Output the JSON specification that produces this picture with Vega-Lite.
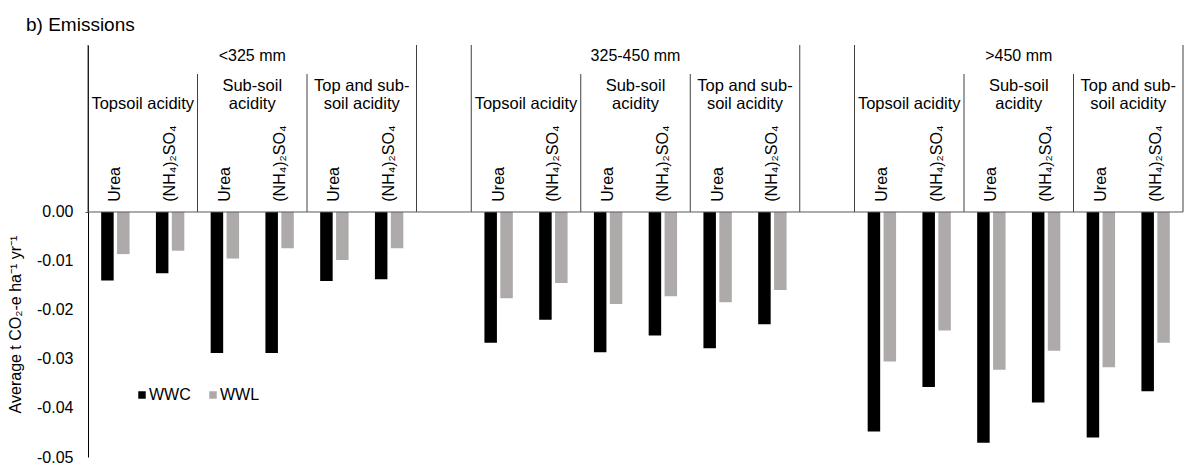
{
  "$schema": "https://vega.github.io/schema/vega-lite/v6.json",
  "width": 1095,
  "height": 412,
  "autosize": {"type": "none"},
  "padding": {"left": 88, "top": 45, "right": 1, "bottom": 15},
  "title": {"text": "b) Emissions", "anchor": "start", "frame": "group", "dx": -62, "offset": -5, "baseline": "alphabetic", "fontSize": 19, "fontWeight": "normal", "font": "Liberation Sans", "color": "#000000"},
  "datasets": {
    "bars": [
      {"cat": "c01", "rot": "WWC", "v": -0.0140}, {"cat": "c01", "rot": "WWL", "v": -0.0086},
      {"cat": "c02", "rot": "WWC", "v": -0.0125}, {"cat": "c02", "rot": "WWL", "v": -0.0079},
      {"cat": "c03", "rot": "WWC", "v": -0.0288}, {"cat": "c03", "rot": "WWL", "v": -0.0095},
      {"cat": "c04", "rot": "WWC", "v": -0.0288}, {"cat": "c04", "rot": "WWL", "v": -0.0074},
      {"cat": "c05", "rot": "WWC", "v": -0.0141}, {"cat": "c05", "rot": "WWL", "v": -0.0098},
      {"cat": "c06", "rot": "WWC", "v": -0.0137}, {"cat": "c06", "rot": "WWL", "v": -0.0074},
      {"cat": "c08", "rot": "WWC", "v": -0.0267}, {"cat": "c08", "rot": "WWL", "v": -0.0176},
      {"cat": "c09", "rot": "WWC", "v": -0.0220}, {"cat": "c09", "rot": "WWL", "v": -0.0145},
      {"cat": "c10", "rot": "WWC", "v": -0.0286}, {"cat": "c10", "rot": "WWL", "v": -0.0188},
      {"cat": "c11", "rot": "WWC", "v": -0.0252}, {"cat": "c11", "rot": "WWL", "v": -0.0172},
      {"cat": "c12", "rot": "WWC", "v": -0.0278}, {"cat": "c12", "rot": "WWL", "v": -0.0184},
      {"cat": "c13", "rot": "WWC", "v": -0.0229}, {"cat": "c13", "rot": "WWL", "v": -0.0159},
      {"cat": "c15", "rot": "WWC", "v": -0.0448}, {"cat": "c15", "rot": "WWL", "v": -0.0305},
      {"cat": "c16", "rot": "WWC", "v": -0.0357}, {"cat": "c16", "rot": "WWL", "v": -0.0242},
      {"cat": "c17", "rot": "WWC", "v": -0.0471}, {"cat": "c17", "rot": "WWL", "v": -0.0322},
      {"cat": "c18", "rot": "WWC", "v": -0.0389}, {"cat": "c18", "rot": "WWL", "v": -0.0283},
      {"cat": "c19", "rot": "WWC", "v": -0.0460}, {"cat": "c19", "rot": "WWL", "v": -0.0317},
      {"cat": "c20", "rot": "WWC", "v": -0.0366}, {"cat": "c20", "rot": "WWL", "v": -0.0267}
    ],
    "fert": [
      {"cat": "c01", "label": "Urea"}, {"cat": "c02", "label": "(NH₄)₂SO₄"},
      {"cat": "c03", "label": "Urea"}, {"cat": "c04", "label": "(NH₄)₂SO₄"},
      {"cat": "c05", "label": "Urea"}, {"cat": "c06", "label": "(NH₄)₂SO₄"},
      {"cat": "c08", "label": "Urea"}, {"cat": "c09", "label": "(NH₄)₂SO₄"},
      {"cat": "c10", "label": "Urea"}, {"cat": "c11", "label": "(NH₄)₂SO₄"},
      {"cat": "c12", "label": "Urea"}, {"cat": "c13", "label": "(NH₄)₂SO₄"},
      {"cat": "c15", "label": "Urea"}, {"cat": "c16", "label": "(NH₄)₂SO₄"},
      {"cat": "c17", "label": "Urea"}, {"cat": "c18", "label": "(NH₄)₂SO₄"},
      {"cat": "c19", "label": "Urea"}, {"cat": "c20", "label": "(NH₄)₂SO₄"}
    ],
    "acid1": [
      {"cat": "c02", "label": "Topsoil acidity"},
      {"cat": "c09", "label": "Topsoil acidity"},
      {"cat": "c16", "label": "Topsoil acidity"}
    ],
    "acid2": [
      {"cat": "c04", "label": ["Sub-soil", "acidity"]},
      {"cat": "c06", "label": ["Top and sub-", "soil acidity"]},
      {"cat": "c11", "label": ["Sub-soil", "acidity"]},
      {"cat": "c13", "label": ["Top and sub-", "soil acidity"]},
      {"cat": "c18", "label": ["Sub-soil", "acidity"]},
      {"cat": "c20", "label": ["Top and sub-", "soil acidity"]}
    ],
    "rain": [
      {"cat": "c04", "label": "<325 mm"},
      {"cat": "c11", "label": "325-450 mm"},
      {"cat": "c18", "label": ">450 mm"}
    ],
    "major": [{"cat": "c01"}, {"cat": "c07"}, {"cat": "c08"}, {"cat": "c14"}, {"cat": "c15"}],
    "endline": [{"cat": "c20"}],
    "minor": [{"cat": "c03"}, {"cat": "c05"}, {"cat": "c10"}, {"cat": "c12"}, {"cat": "c17"}, {"cat": "c19"}],
    "zero": [{"z": 0}]
  },
  "layer": [
    {
      "data": {"name": "bars"},
      "mark": {"type": "bar"},
      "encoding": {
        "x": {"field": "cat", "type": "nominal", "axis": null, "scale": {"domain": ["c01","c02","c03","c04","c05","c06","c07","c08","c09","c10","c11","c12","c13","c14","c15","c16","c17","c18","c19","c20"], "paddingInner": 0, "paddingOuter": 0}},
        "xOffset": {"field": "rot", "type": "nominal", "scale": {"domain": ["WWC", "WWL"], "paddingInner": 0.214, "paddingOuter": 0.829}},
        "y": {
          "field": "v", "type": "quantitative", "stack": null,
          "scale": {"domain": [-0.05, 0.03408], "nice": false, "zero": false},
          "axis": {
            "title": "Average t CO₂-e ha⁻¹ yr⁻¹",
            "values": [0, -0.01, -0.02, -0.03, -0.04, -0.05],
            "labelExpr": "replace(format(datum.value, '.2f'), '−', '-')",
            "grid": false,
            "domainColor": "#000000",
            "tickSize": 3,
            "tickColor": "#555555",
            "tickOpacity": {"condition": {"test": "datum.value === 0", "value": 1}, "value": 0},
            "labelPadding": 12,
            "labelFontSize": 16,
            "labelColor": "#000000",
            "labelFont": "Liberation Sans",
            "titleFont": "Liberation Sans",
            "titleFontSize": 16,
            "titleFontWeight": "normal",
            "titleColor": "#000000",
            "titleX": -73,
            "titleY": 279,
            "titleAngle": 270,
            "titleAlign": "center",
            "titleBaseline": "middle"
          }
        },
        "color": {
          "field": "rot", "type": "nominal",
          "scale": {"domain": ["WWC", "WWL"], "range": ["#000000", "#AEAAAA"]},
          "legend": {
            "title": null, "orient": "none", "legendX": 46, "legendY": 342, "direction": "horizontal",
            "symbolType": "square", "symbolSize": 56, "symbolStrokeWidth": 0, "labelOffset": -1,
            "columnPadding": 14, "padding": 0, "labelFontSize": 16, "labelFont": "Liberation Sans", "labelColor": "#000000"
          }
        }
      }
    },
    {
      "data": {"name": "major"},
      "mark": {"type": "rule", "color": "#404040", "strokeWidth": 1},
      "encoding": {
        "x": {"field": "cat", "type": "nominal", "bandPosition": 0, "axis": null, "scale": {"domain": ["c01","c02","c03","c04","c05","c06","c07","c08","c09","c10","c11","c12","c13","c14","c15","c16","c17","c18","c19","c20"], "paddingInner": 0, "paddingOuter": 0}},
        "y": {"datum": 0, "type": "quantitative", "scale": {"domain": [-0.05, 0.03408], "nice": false, "zero": false}},
        "y2": {"datum": 0.03408}
      }
    },
    {
      "data": {"name": "endline"},
      "mark": {"type": "rule", "color": "#404040", "strokeWidth": 1},
      "encoding": {
        "x": {"field": "cat", "type": "nominal", "bandPosition": 1, "axis": null, "scale": {"domain": ["c01","c02","c03","c04","c05","c06","c07","c08","c09","c10","c11","c12","c13","c14","c15","c16","c17","c18","c19","c20"], "paddingInner": 0, "paddingOuter": 0}},
        "y": {"datum": 0, "type": "quantitative", "scale": {"domain": [-0.05, 0.03408], "nice": false, "zero": false}},
        "y2": {"datum": 0.03408}
      }
    },
    {
      "data": {"name": "minor"},
      "mark": {"type": "rule", "color": "#404040", "strokeWidth": 1},
      "encoding": {
        "x": {"field": "cat", "type": "nominal", "bandPosition": 0, "axis": null, "scale": {"domain": ["c01","c02","c03","c04","c05","c06","c07","c08","c09","c10","c11","c12","c13","c14","c15","c16","c17","c18","c19","c20"], "paddingInner": 0, "paddingOuter": 0}},
        "y": {"datum": 0, "type": "quantitative", "scale": {"domain": [-0.05, 0.03408], "nice": false, "zero": false}},
        "y2": {"datum": 0.02816}
      }
    },
    {
      "data": {"name": "zero"},
      "mark": {"type": "rule", "color": "#595959", "strokeWidth": 1},
      "encoding": {
        "y": {"datum": 0, "type": "quantitative", "scale": {"domain": [-0.05, 0.03408], "nice": false, "zero": false}}
      }
    },
    {
      "data": {"name": "fert"},
      "mark": {"type": "text", "angle": 270, "align": "left", "baseline": "middle", "fontSize": 16, "font": "Liberation Sans", "color": "#000000"},
      "encoding": {
        "x": {"field": "cat", "type": "nominal", "axis": null, "scale": {"domain": ["c01","c02","c03","c04","c05","c06","c07","c08","c09","c10","c11","c12","c13","c14","c15","c16","c17","c18","c19","c20"], "paddingInner": 0, "paddingOuter": 0}},
        "y": {"datum": 0.0021, "type": "quantitative", "scale": {"domain": [-0.05, 0.03408], "nice": false, "zero": false}},
        "text": {"field": "label"}
      }
    },
    {
      "data": {"name": "acid1"},
      "mark": {"type": "text", "align": "center", "baseline": "bottom", "fontSize": 16.5, "font": "Liberation Sans", "color": "#000000"},
      "encoding": {
        "x": {"field": "cat", "type": "nominal", "bandPosition": 0, "axis": null, "scale": {"domain": ["c01","c02","c03","c04","c05","c06","c07","c08","c09","c10","c11","c12","c13","c14","c15","c16","c17","c18","c19","c20"], "paddingInner": 0, "paddingOuter": 0}},
        "y": {"datum": 0.0204, "type": "quantitative", "scale": {"domain": [-0.05, 0.03408], "nice": false, "zero": false}},
        "text": {"field": "label"}
      }
    },
    {
      "data": {"name": "acid2"},
      "mark": {"type": "text", "align": "center", "baseline": "bottom", "lineHeight": 18.3, "fontSize": 16.5, "font": "Liberation Sans", "color": "#000000"},
      "encoding": {
        "x": {"field": "cat", "type": "nominal", "bandPosition": 0, "axis": null, "scale": {"domain": ["c01","c02","c03","c04","c05","c06","c07","c08","c09","c10","c11","c12","c13","c14","c15","c16","c17","c18","c19","c20"], "paddingInner": 0, "paddingOuter": 0}},
        "y": {"datum": 0.02413, "type": "quantitative", "scale": {"domain": [-0.05, 0.03408], "nice": false, "zero": false}},
        "text": {"field": "label"}
      }
    },
    {
      "data": {"name": "rain"},
      "mark": {"type": "text", "align": "center", "baseline": "middle", "fontSize": 16, "font": "Liberation Sans", "color": "#000000"},
      "encoding": {
        "x": {"field": "cat", "type": "nominal", "bandPosition": 0, "axis": null, "scale": {"domain": ["c01","c02","c03","c04","c05","c06","c07","c08","c09","c10","c11","c12","c13","c14","c15","c16","c17","c18","c19","c20"], "paddingInner": 0, "paddingOuter": 0}},
        "y": {"datum": 0.0318, "type": "quantitative", "scale": {"domain": [-0.05, 0.03408], "nice": false, "zero": false}},
        "text": {"field": "label"}
      }
    }
  ],
  "config": {
    "view": {"stroke": null},
    "font": "Liberation Sans"
  }
}
